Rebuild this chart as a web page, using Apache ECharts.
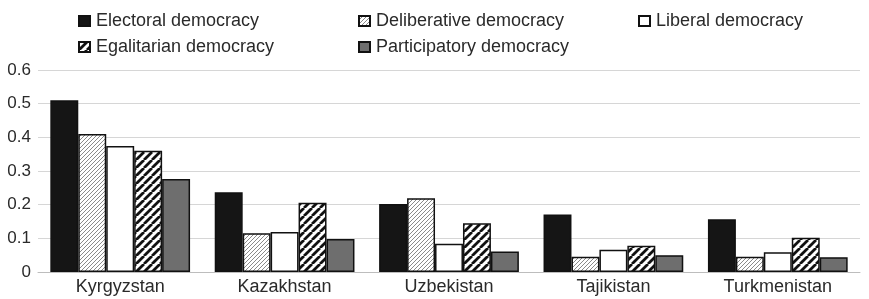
<!DOCTYPE html>
<html>
<head>
<meta charset="utf-8">
<script src="https://cdn.jsdelivr.net/npm/echarts@6/dist/echarts.min.js"></script>
<style>
  html, body { margin: 0; padding: 0; background: #fff; }
  #chart { width: 869px; height: 299px; }
</style>
</head>
<body>
<div id="chart"></div>
<script>
// data
var countries = ['Kyrgyzstan', 'Kazakhstan', 'Uzbekistan', 'Tajikistan', 'Turkmenistan'];
var seriesNames = ['Electoral democracy', 'Deliberative democracy', 'Liberal democracy', 'Egalitarian democracy', 'Participatory democracy'];
var electoral = [0.51, 0.237, 0.202, 0.171, 0.157];
var deliberative = [0.41, 0.115, 0.219, 0.045, 0.045];
var liberal = [0.374, 0.119, 0.084, 0.066, 0.059];
var egalitarian = [0.36, 0.206, 0.145, 0.078, 0.102];
var participatory = [0.276, 0.098, 0.061, 0.05, 0.044];
var yTicks = [0, 0.1, 0.2, 0.3, 0.4, 0.5, 0.6];

// diagonal hatch fill
function hatch(bg, lineColor, lineWidth, step) {
	var c = document.createElement('canvas');
	c.width = step;
	c.height = step;
	var ctx = c.getContext('2d');
	ctx.fillStyle = bg;
	ctx.fillRect(0, 0, step, step);
	ctx.strokeStyle = lineColor;
	ctx.lineWidth = lineWidth;
	ctx.beginPath();
	for (var k = -1; k <= 1; k++) {
		ctx.moveTo(k * step, step);
		ctx.lineTo(k * step + step, 0);
	}
	ctx.stroke();
	return { image: c, repeat: 'repeat' };
}

var fills = [
	'#151515',
	hatch('#ffffff', '#8a8a8a', 1, 4),
	'#ffffff',
	hatch('#ffffff', '#111111', 2.8, 8),
	'#6e6e6e'
];
var values = [electoral, deliberative, liberal, egalitarian, participatory];

var chart = echarts.init(document.getElementById('chart'));

// one legend per item so they sit in the same columns as the picture
var legendPos = [[78, 12], [358, 12], [638, 12], [78, 38], [358, 38]];
var legends = seriesNames.map(function (name, i) {
	return {
		data: [name],
		left: legendPos[i][0],
		top: legendPos[i][1],
		padding: 0,
		icon: 'rect',
		itemWidth: 11,
		itemHeight: 10,
		itemGap: 0,
		selectedMode: false,
		textStyle: { fontFamily: 'Liberation Sans', fontSize: 18, color: '#2a2a2a', padding: [0, 0, 0, 1] }
	};
});

var series = seriesNames.map(function (name, i) {
	return {
		name: name,
		type: 'bar',
		data: values[i],
		barGap: 0,
		barCategoryGap: '15%',
		itemStyle: {
			color: fills[i],
			borderColor: '#111',
			borderWidth: 1.5
		}
	};
});

chart.setOption({
	animation: false,
	legend: legends,
	grid: { left: 38, right: 9, top: 70, bottom: 27 },
	xAxis: {
		type: 'category',
		data: countries,
		axisTick: { show: false },
		axisLine: { lineStyle: { color: '#bdbdbd', width: 1 } },
		axisLabel: { fontFamily: 'Liberation Sans', fontSize: 18, color: '#2a2a2a', margin: 6 }
	},
	yAxis: {
		type: 'value',
		min: yTicks[0],
		max: yTicks[yTicks.length - 1],
		interval: 0.1,
		axisLine: { show: false },
		axisTick: { show: false },
		splitLine: { lineStyle: { color: '#d6d6d6', width: 1 } },
		axisLabel: {
			fontFamily: 'Liberation Sans', fontSize: 17, color: '#2a2a2a', margin: 7,
			formatter: function (v) { return String(Math.round(v * 10) / 10); }
		}
	},
	series: series
});
</script>
</body>
</html>
